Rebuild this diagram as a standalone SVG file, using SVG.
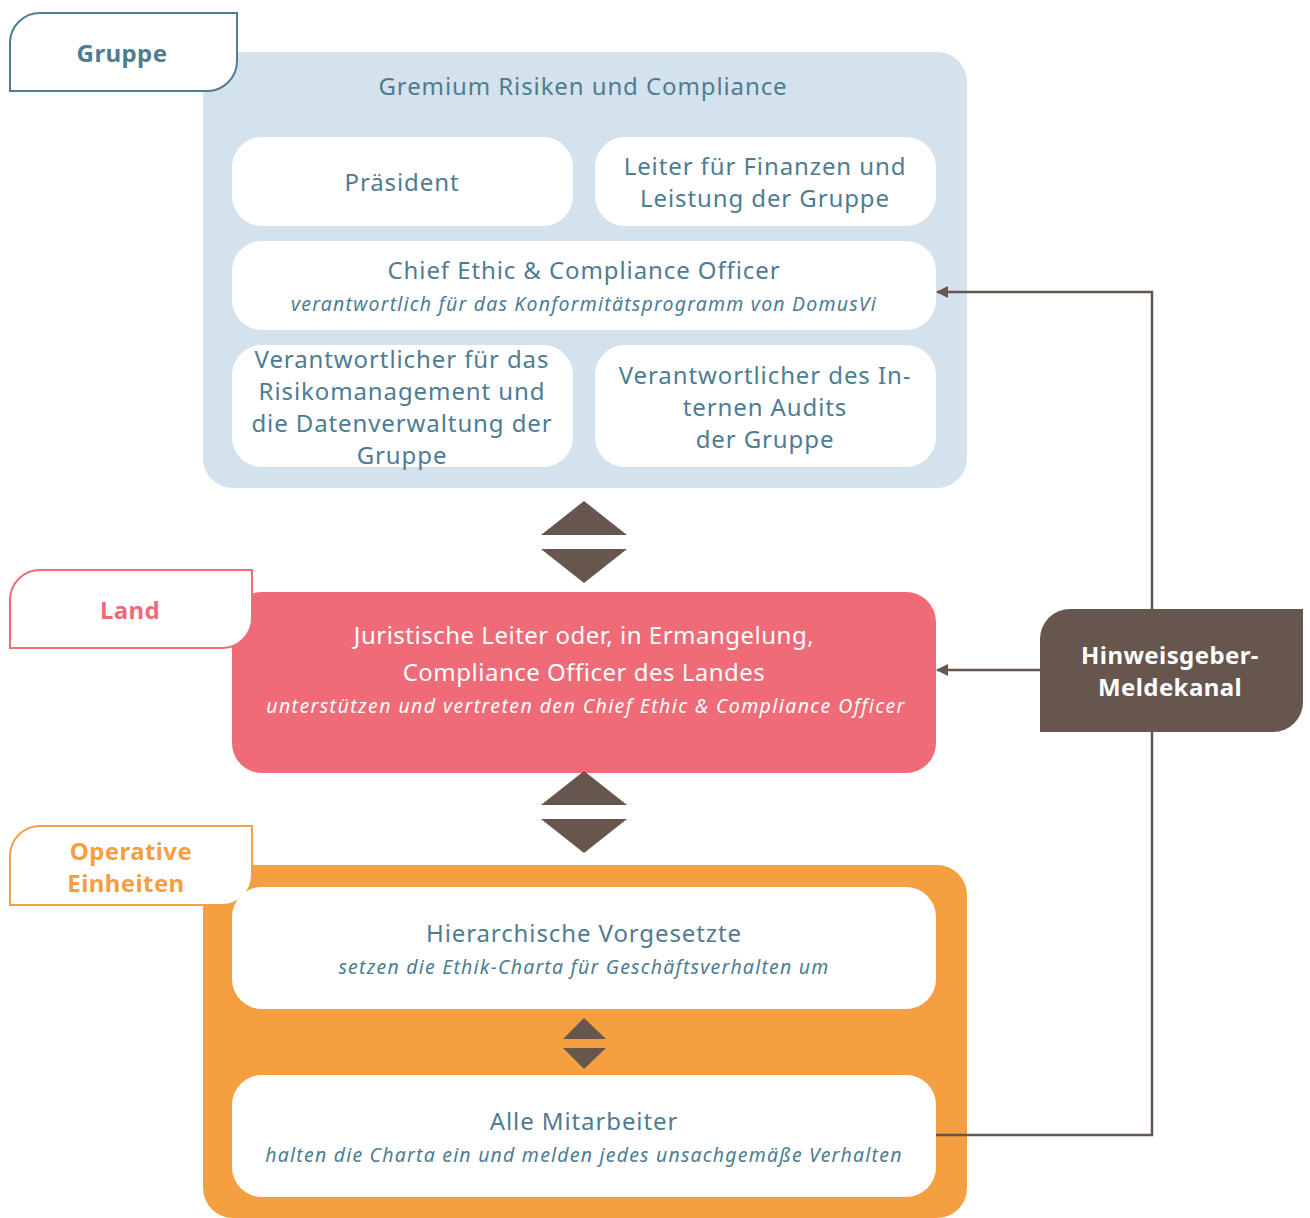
<svg xmlns="http://www.w3.org/2000/svg" width="1310" height="1218" viewBox="0 0 1310 1218">
<style>
.t{font-family:"Noto Sans","Open Sans",sans-serif;fill:#4e7c92;text-anchor:middle;font-size:24px;letter-spacing:0.9px}
.s{font-family:"Noto Sans","Open Sans",sans-serif;fill:#4e7c92;text-anchor:middle;font-size:19.5px;font-style:italic;letter-spacing:1.2px}
.w{fill:#ffffff}
.lab{font-family:"Noto Sans","Open Sans",sans-serif;font-weight:bold;text-anchor:middle;font-size:24px;letter-spacing:0.4px}
.tri{fill:#66564e}
.conn{fill:none;stroke:#66564e;stroke-width:2.5}
</style>
<defs>
<marker id="ah" markerWidth="12" markerHeight="12" refX="11" refY="6" orient="auto" markerUnits="userSpaceOnUse">
<path d="M0,0 L12,6 L0,12 Z" fill="#66564e"/>
</marker>
</defs>
<rect width="1310" height="1218" fill="#ffffff"/>

<g id="gruppe-container">
<rect x="203" y="52" width="764" height="436" rx="30" fill="#d3e2ec"/>
<text class="t" x="583" y="95">Gremium Risiken und Compliance</text>
</g>
<g id="gruppe-label">
<path d="M10,91 V43 A30,30 0 0 1 40,13 H237 V61 A30,30 0 0 1 207,91 Z" fill="#ffffff" stroke="#4e7c92" stroke-width="2"/>
<text class="lab" x="122" y="62" fill="#4e7c92">Gruppe</text>
</g>
<g id="praesident">
<rect class="w" x="232" y="137" width="341" height="89" rx="30"/>
<text class="t" x="402" y="191">Präsident</text>
</g>
<g id="leiter">
<rect class="w" x="595" y="137" width="341" height="89" rx="30"/>
<text class="t" x="765" y="175">Leiter für Finanzen und</text>
<text class="t" x="765" y="207">Leistung der Gruppe</text>
</g>
<g id="chief">
<rect class="w" x="232" y="241" width="704" height="89" rx="30"/>
<text class="t" x="584" y="279">Chief Ethic &amp; Compliance Officer</text>
<text class="s" x="584" y="311">verantwortlich für das Konformitätsprogramm von DomusVi</text>
</g>
<g id="risiko">
<rect class="w" x="232" y="345" width="341" height="122" rx="30"/>
<text class="t" x="402" y="368">Verantwortlicher für das</text>
<text class="t" x="402" y="400">Risikomanagement und</text>
<text class="t" x="402" y="432">die Datenverwaltung der</text>
<text class="t" x="402" y="464">Gruppe</text>
</g>
<g id="audit">
<rect class="w" x="595" y="345" width="341" height="122" rx="30"/>
<text class="t" x="765" y="384">Verantwortlicher des In-</text>
<text class="t" x="765" y="416">ternen Audits</text>
<text class="t" x="765" y="448">der Gruppe</text>
</g>

<g id="land-box">
<rect x="232" y="592" width="704" height="181" rx="30" fill="#ee6b77"/>
<text class="t" x="584" y="644" style="fill:#ffffff;letter-spacing:0.5px">Juristische Leiter oder, in Ermangelung,</text>
<text class="t" x="584" y="681" style="fill:#ffffff;letter-spacing:0.5px">Compliance Officer des Landes</text>
<text class="s" x="586" y="713" style="fill:#ffffff;letter-spacing:1.4px">unterstützen und vertreten den Chief Ethic &amp; Compliance Officer</text>
</g>
<g id="land-label">
<path d="M10,648 V600 A30,30 0 0 1 40,570 H252 V618 A30,30 0 0 1 222,648 Z" fill="#ffffff" stroke="#ee6b77" stroke-width="2"/>
<text class="lab" x="130" y="619" fill="#ee6b77">Land</text>
</g>

<g id="operative-container">
<rect x="203" y="865" width="764" height="353" rx="30" fill="#f5a040"/>
</g>
<g id="operative-label">
<path d="M10,905 V856 A30,30 0 0 1 40,826 H252 V875 A30,30 0 0 1 222,905 Z" fill="#ffffff" stroke="#f5a040" stroke-width="2"/>
<text class="lab" x="131" y="860" fill="#f5a040">Operative</text>
<text class="lab" x="126" y="892" fill="#f5a040">Einheiten</text>
</g>
<g id="vorgesetzte">
<rect class="w" x="232" y="887" width="704" height="122" rx="30"/>
<text class="t" x="584" y="942">Hierarchische Vorgesetzte</text>
<text class="s" x="584" y="974">setzen die Ethik-Charta für Geschäftsverhalten um</text>
</g>
<g id="mitarbeiter">
<rect class="w" x="232" y="1075" width="704" height="122" rx="30"/>
<text class="t" x="584" y="1130">Alle Mitarbeiter</text>
<text class="s" x="584" y="1162">halten die Charta ein und melden jedes unsachgemäße Verhalten</text>
</g>

<g id="hinweisgeber">
<path d="M1040,732 V639 A30,30 0 0 1 1070,609 H1303 V702 A30,30 0 0 1 1273,732 Z" fill="#66564e"/>
<text class="lab" x="1170" y="664" fill="#ffffff">Hinweisgeber-</text>
<text class="lab" x="1170" y="696" fill="#ffffff">Meldekanal</text>
</g>

<g id="connectors">
<path class="tri" d="M584,501 L627,535 L541,535 Z"/>
<path class="tri" d="M541,549 L627,549 L584,583 Z"/>
<path class="tri" d="M584,771 L627,805 L541,805 Z"/>
<path class="tri" d="M541,819 L627,819 L584,853 Z"/>
<path class="tri" d="M584,1018 L606,1039 L563,1039 Z"/>
<path class="tri" d="M563,1048 L606,1048 L584,1069 Z"/>
<path class="conn" d="M1152,609 V292 H937" marker-end="url(#ah)"/>
<path class="conn" d="M1040,670 H937" marker-end="url(#ah)"/>
<path class="conn" d="M936,1135 H1152 V732"/>
</g>
</svg>
